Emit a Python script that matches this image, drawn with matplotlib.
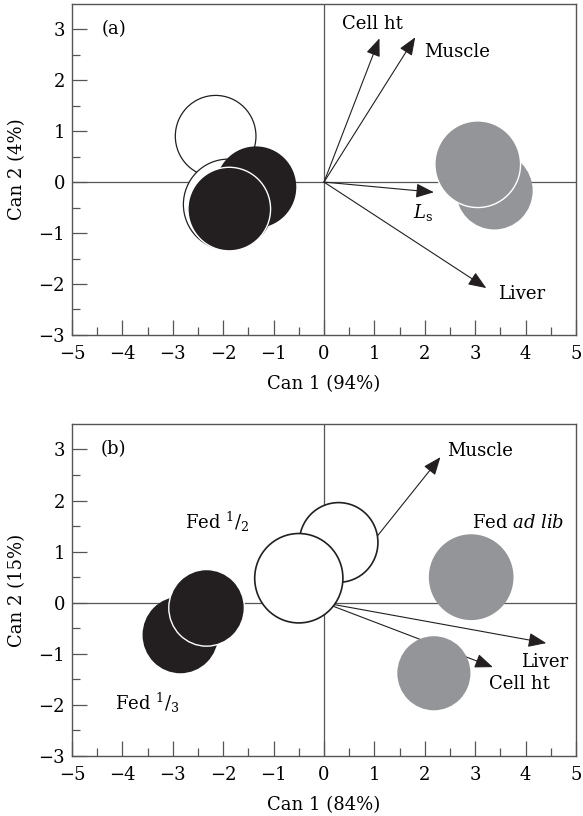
import matplotlib.pyplot as plt
from matplotlib.patches import Ellipse
from matplotlib.ticker import FixedLocator

plt.rcParams["font.family"] = ["DejaVu Serif"]
plt.rcParams["mathtext.fontset"] = "dejavuserif"
plt.rcParams["axes.unicode_minus"] = True

INK = "#231f20"
GREY = "#939598"
AXIS = "#555555"
FS = 13

# panel (a): group centroids (x, y, diameter)
a_open_x = [-2.15, -1.90]
a_open_y = [0.90, -0.44]
a_open_d = [1.60, 1.78]
a_black_x = [-1.35, -1.88]
a_black_y = [-0.10, -0.53]
a_black_d = [1.60, 1.64]
a_grey_x = [3.38, 3.05]
a_grey_y = [-0.17, 0.35]
a_grey_d = [1.52, 1.70]

# panel (a): variable vectors
a_vec_names = ["Cell ht", "Muscle", "$L_\\mathrm{s}$", "Liver"]
a_vec_x = [1.10, 1.81, 2.18, 3.22]
a_vec_y = [2.82, 2.84, -0.20, -2.08]
a_lab_x = [0.97, 2.65, 1.97, 3.93]
a_lab_y = [3.10, 2.55, -0.60, -2.20]

# panel (b): group centroids
b_open_x = [0.29, -0.50]
b_open_y = [1.18, 0.48]
b_open_d = [1.56, 1.75]
b_black_x = [-2.85, -2.33]
b_black_y = [-0.63, -0.10]
b_black_d = [1.50, 1.50]
b_grey_x = [2.92, 2.18]
b_grey_y = [0.50, -1.38]
b_grey_d = [1.68, 1.45]

# panel (b): variable vectors
b_vec_names = ["Muscle", "Liver", "Cell ht"]
b_vec_x = [2.31, 4.41, 3.35]
b_vec_y = [2.85, -0.79, -1.26]
b_lab_x = [3.10, 4.37, 3.88]
b_lab_y = [2.97, -1.16, -1.60]

b_groups = ["Fed $^1/_2$", "Fed $\\it{ad\\ lib}$", "Fed $^1/_3$"]
b_group_x = [-2.13, 3.86, -3.50]
b_group_y = [1.58, 1.56, -1.97]


def setup_axes(ax, xlabel, ylabel, tag):
    ax.set_xlim(-5, 5)
    ax.set_ylim(-3, 3.5)
    for s in ax.spines.values():
        s.set_color(AXIS)
        s.set_linewidth(1.0)
    ax.xaxis.set_major_locator(FixedLocator(range(-5, 6)))
    ax.xaxis.set_minor_locator(FixedLocator([i + 0.5 for i in range(-5, 5)]))
    ax.yaxis.set_major_locator(FixedLocator(range(-3, 4)))
    ax.yaxis.set_minor_locator(FixedLocator([i + 0.5 for i in range(-3, 3)]))
    ax.tick_params(which="both", direction="in", color=AXIS, width=0.9,
                   labelsize=FS, top=False, right=False)
    ax.tick_params(which="major", length=11)
    ax.tick_params(which="minor", length=6)
    ax.tick_params(axis="x", which="major", pad=7)
    ax.tick_params(axis="y", which="major", pad=5)
    ax.axhline(0, color=AXIS, lw=0.9, zorder=1)
    ax.axvline(0, color=AXIS, lw=0.9, zorder=1)
    ax.set_xlabel(xlabel, fontsize=FS, labelpad=9)
    ax.set_ylabel(ylabel, fontsize=FS, labelpad=9)
    ax.text(-4.17, 3.0, tag, fontsize=FS, ha="center", va="center")


def blob(ax, x, y, d, face, edge, lw, z):
    ax.add_patch(Ellipse((x, y), d, d, facecolor=face, edgecolor=edge,
                         linewidth=lw, zorder=z))


def vector(ax, x, y, z):
    ax.annotate("", xy=(x, y), xytext=(0, 0),
                arrowprops=dict(arrowstyle="-|>,head_length=0.55,head_width=0.22",
                                mutation_scale=20, color=INK, lw=0.8,
                                shrinkA=0, shrinkB=0),
                zorder=z)


fig = plt.figure(figsize=(5.83, 8.16), dpi=100)
ax1 = fig.add_axes([0.1235, 0.5895, 0.8645, 0.406])
ax2 = fig.add_axes([0.1235, 0.0735, 0.8645, 0.407])

# (a)
setup_axes(ax1, "Can 1 (94%)", "Can 2 (4%)", "(a)")
blob(ax1, a_open_x[0], a_open_y[0], a_open_d[0], "white", INK, 0.9, 3)
blob(ax1, a_open_x[1], a_open_y[1], a_open_d[1], "white", INK, 0.9, 4)
blob(ax1, a_black_x[0], a_black_y[0], a_black_d[0], INK, "none", 0, 5)
blob(ax1, a_black_x[1], a_black_y[1], a_black_d[1], INK, "white", 1.0, 6)
blob(ax1, a_grey_x[0], a_grey_y[0], a_grey_d[0], GREY, "none", 0, 5)
blob(ax1, a_grey_x[1], a_grey_y[1], a_grey_d[1], GREY, "white", 1.0, 6)
for i in range(len(a_vec_names)):
    vector(ax1, a_vec_x[i], a_vec_y[i], 7)
    ax1.text(a_lab_x[i], a_lab_y[i], a_vec_names[i], fontsize=FS,
             ha="center", va="center", zorder=8)

# (b)
setup_axes(ax2, "Can 1 (84%)", "Can 2 (15%)", "(b)")
for i in range(len(b_vec_names)):
    vector(ax2, b_vec_x[i], b_vec_y[i], 2)
    ax2.text(b_lab_x[i], b_lab_y[i], b_vec_names[i], fontsize=FS,
             ha="center", va="center", zorder=8)
blob(ax2, b_open_x[0], b_open_y[0], b_open_d[0], "white", INK, 1.2, 3)
blob(ax2, b_open_x[1], b_open_y[1], b_open_d[1], "white", INK, 1.2, 4)
blob(ax2, b_black_x[0], b_black_y[0], b_black_d[0], INK, "none", 0, 5)
blob(ax2, b_black_x[1], b_black_y[1], b_black_d[1], INK, "white", 1.0, 6)
blob(ax2, b_grey_x[0], b_grey_y[0], b_grey_d[0], GREY, "none", 0, 5)
blob(ax2, b_grey_x[1], b_grey_y[1], b_grey_d[1], GREY, "none", 0, 5)
for i in range(len(b_groups)):
    ax2.text(b_group_x[i], b_group_y[i], b_groups[i], fontsize=FS,
             ha="center", va="center", zorder=8)

fig.savefig("out.png", dpi=100)
